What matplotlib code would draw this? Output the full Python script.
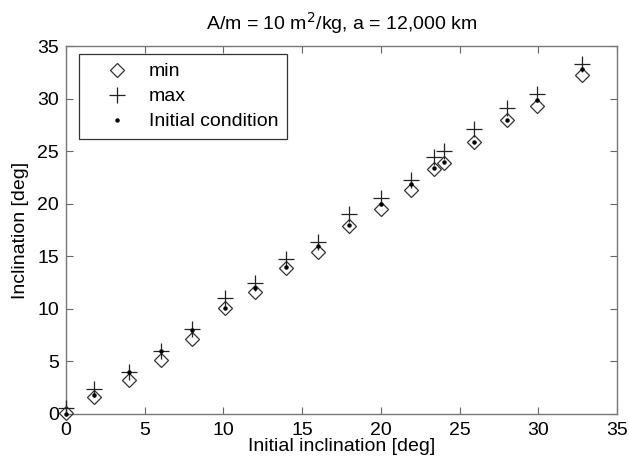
import numpy as np
import matplotlib.pyplot as plt

plt.rcParams['font.family'] = ['Liberation Sans', 'DejaVu Sans']

# initial inclination and the min / max inclination reached [deg]
inc0 = [0.0, 1.8, 4.0, 6.0, 8.0, 10.1, 12.0, 14.0, 16.0, 18.0, 20.0, 21.9,
        23.4, 24.0, 25.9, 28.0, 29.9, 32.8]
inc_min = [0.1, 1.6, 3.2, 5.15, 7.1, 10.1, 11.6, 13.85, 15.4, 17.9, 19.5, 21.3,
           23.3, 23.85, 25.9, 28.0, 29.3, 32.2]
inc_max = [0.55, 2.35, 4.0, 6.0, 8.05, 11.0, 12.5, 14.75, 16.4, 19.0, 20.5, 22.3,
           24.4, 25.0, 27.1, 29.1, 30.4, 33.3]

FS = 14

fig = plt.figure(figsize=(6.29, 4.68), dpi=100)
ax = fig.add_axes([0.105, 0.1154, 0.876, 0.7863])

ax.plot(inc0, inc_min, linestyle='none', marker='D', markersize=7.5,
        markerfacecolor='none', markeredgecolor='#333333', markeredgewidth=0.9,
        clip_on=False, zorder=3, label='min')
ax.plot(inc0, inc_max, linestyle='none', marker='+', markersize=11,
        color='#222222', markeredgewidth=0.9, clip_on=False, zorder=3,
        label='max')
ax.plot(inc0, inc0, linestyle='none', marker='o', markersize=2.2,
        color='black', clip_on=False, zorder=4, label='Initial condition')

ax.set_xlim(0, 35)
ax.set_ylim(0, 35)
ax.set_xticks(np.arange(0, 36, 5))
ax.set_yticks(np.arange(0, 36, 5))
ax.tick_params(direction='in', top=True, right=True, length=5, width=0.8,
               color='#666666', labelsize=FS)
ax.tick_params(axis='x', pad=6)
ax.tick_params(axis='y', pad=5)
for s in ax.spines.values():
    s.set_color('#777777')
    s.set_linewidth(1.0)

ax.set_xlabel('Initial inclination [deg]', fontsize=FS, labelpad=-1)
ax.set_ylabel('Inclination [deg]', fontsize=FS, labelpad=6)
ax.set_title('A/m = 10 m$^2$/kg, a = 12,000 km', fontsize=FS, pad=12)

leg = ax.legend(loc='upper left', fontsize=FS, fancybox=False,
                edgecolor='#333333', framealpha=1, borderpad=0.45,
                labelspacing=0.38, handletextpad=0.15, handlelength=3.0,
                borderaxespad=0, bbox_to_anchor=(0.0236, 0.978))
leg.get_frame().set_linewidth(0.9)

fig.savefig('out.png', dpi=100)
